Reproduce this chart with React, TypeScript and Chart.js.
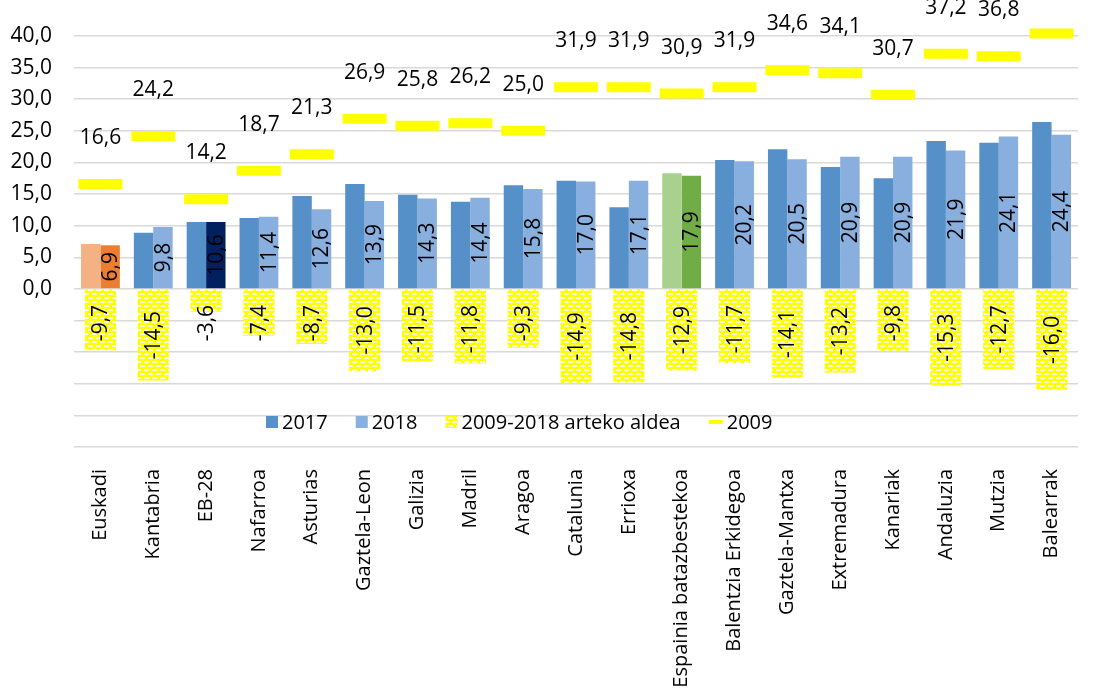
import { useEffect, useRef } from "react";
import { Chart, registerables } from "chart.js";

Chart.register(...registerables);

const categories = [
  "Euskadi", "Kantabria", "EB-28", "Nafarroa", "Asturias", "Gaztela-Leon", "Galizia",
  "Madril", "Aragoa", "Catalunia", "Errioxa", "Espainia batazbestekoa",
  "Balentzia Erkidegoa", "Gaztela-Mantxa", "Extremadura", "Kanariak", "Andaluzia",
  "Mutzia", "Balearrak",
];
const values2017 = [7.1, 8.9, 10.6, 11.2, 14.7, 16.6, 14.9, 13.8, 16.4, 17.1, 12.9, 18.3, 20.4, 22.1, 19.3, 17.5, 23.4, 23.1, 26.4];
const values2018 = [6.9, 9.8, 10.6, 11.4, 12.6, 13.9, 14.3, 14.4, 15.8, 17.0, 17.1, 17.9, 20.2, 20.5, 20.9, 20.9, 21.9, 24.1, 24.4];
const diff2009_2018 = [-9.7, -14.5, -3.6, -7.4, -8.7, -13.0, -11.5, -11.8, -9.3, -14.9, -14.8, -12.9, -11.7, -14.1, -13.2, -9.8, -15.3, -12.7, -16.0];
const values2009 = [16.6, 24.2, 14.2, 18.7, 21.3, 26.9, 25.8, 26.2, 25.0, 31.9, 31.9, 30.9, 31.9, 34.6, 34.1, 30.7, 37.2, 36.8, 40.4];

const seriesNames = ["2017", "2018", "2009-2018 arteko aldea", "2009"];
const yMin = -25;
const yMax = 40;
const yStep = 5;

const BLUE17 = "#5690C8";
const BLUE18 = "#88AFDD";
const YELLOW = "#FFFF00";
const highlight17: Record<string, string> = { "Euskadi": "#F4B183", "Espainia batazbestekoa": "#A9D18E" };
const highlight18: Record<string, string> = { "Euskadi": "#ED7D31", "EB-28": "#002060", "Espainia batazbestekoa": "#70AD47" };

const NUM_FONT = '21px "Open Sans"';
const fmt = (v: number) => v.toFixed(1).replace(".", ",");

function makePattern(ctx: CanvasRenderingContext2D) {
  const c = document.createElement("canvas");
  c.width = 8;
  c.height = 8;
  const p = c.getContext("2d")!;
  p.fillStyle = YELLOW;
  p.fillRect(0, 0, 8, 8);
  p.fillStyle = "rgba(255,255,255,0.9)";
  p.fillRect(0, 1, 5, 2);
  p.fillRect(4, 5, 4, 2);
  p.fillRect(0, 5, 1, 2);
  return ctx.createPattern(c, "repeat")!;
}

const labelPlugin = {
  id: "valueLabels",
  afterDatasetsDraw(chart: any) {
    const ctx: CanvasRenderingContext2D = chart.ctx;
    const zeroY = chart.scales.y.getPixelForValue(0);
    ctx.save();
    ctx.font = NUM_FONT;
    ctx.fillStyle = "#000";
    ctx.textAlign = "center";
    ctx.textBaseline = "middle";
    const rotText = (t: string, x: number, y: number) => {
      ctx.save();
      ctx.translate(x, y);
      ctx.rotate(-Math.PI / 2);
      ctx.fillText(t, 0, 1);
      ctx.restore();
    };
    chart.getDatasetMeta(2).data.forEach((bar: any, i: number) => {
      rotText(fmt(values2018[i]), bar.x, (bar.y + bar.base) / 2);
    });
    chart.getDatasetMeta(3).data.forEach((bar: any, i: number) => {
      const t = fmt(diff2009_2018[i]);
      const w = ctx.measureText(t).width;
      const cy = Math.max((bar.y + bar.base) / 2, zeroY + 16 + w / 2);
      rotText(t, bar.x, cy);
    });
    chart.getDatasetMeta(0).data.forEach((pt: any, i: number) => {
      ctx.fillText(fmt(values2009[i]), pt.x, pt.y - 46);
    });
    ctx.restore();
  },
};

const legendPlugin = {
  id: "customLegend",
  afterDraw(chart: any, _args: any, opts: any) {
    const ctx: CanvasRenderingContext2D = chart.ctx;
    ctx.save();
    ctx.font = '20px "Open Sans"';
    ctx.textBaseline = "middle";
    ctx.textAlign = "left";
    let x = opts.startX;
    const y = opts.y;
    const kinds = ["box17", "box18", "pattern", "line"];
    seriesNames.forEach((name, i) => {
      const k = kinds[i];
      if (k === "line") {
        ctx.fillStyle = YELLOW;
        ctx.fillRect(x, y - 2, 14, 4);
        x += 18;
      } else {
        ctx.fillStyle = k === "box17" ? BLUE17 : k === "box18" ? BLUE18 : opts.pattern;
        ctx.fillRect(x, y - 6, 12, 12);
        x += 16;
      }
      ctx.fillStyle = "#000";
      ctx.fillText(name, x, y + 1);
      x += ctx.measureText(name).width + opts.gap;
    });
    ctx.restore();
  },
};

export default function App() {
  const ref = useRef<HTMLCanvasElement | null>(null);

  useEffect(() => {
    document.body.style.margin = "0";
    document.body.style.overflow = "hidden";
    const canvas = ref.current!;
    const ctx = canvas.getContext("2d")!;
    const pattern = makePattern(ctx);

    const chart = new Chart(ctx, {
      type: "bar",
      data: {
        labels: categories,
        datasets: [
          {
            type: "line",
            label: seriesNames[3],
            data: values2009,
            showLine: false,
            pointStyle: "line",
            pointRadius: 22,
            pointHoverRadius: 22,
            pointBorderWidth: 10,
            pointHoverBorderWidth: 10,
            borderColor: YELLOW,
            backgroundColor: YELLOW,
            clip: false,
            order: 0,
          } as any,
          {
            label: seriesNames[0],
            data: values2017,
            backgroundColor: categories.map((c) => highlight17[c] || BLUE17),
            categoryPercentage: 0.735,
            barPercentage: 1,
            order: 1,
          },
          {
            label: seriesNames[1],
            data: values2018,
            backgroundColor: categories.map((c) => highlight18[c] || BLUE18),
            categoryPercentage: 0.735,
            barPercentage: 1,
            order: 1,
          },
          {
            label: seriesNames[2],
            data: diff2009_2018,
            grouped: false,
            backgroundColor: pattern,
            categoryPercentage: 0.59,
            barPercentage: 1,
            order: 1,
          } as any,
        ],
      },
      options: {
        responsive: false,
        animation: false,
        events: [],
        layout: { padding: { top: 36, right: 2, left: 0, bottom: 0 } },
        plugins: {
          legend: { display: false },
          tooltip: { enabled: false },
          customLegend: { startX: 266, y: 422, gap: 28, pattern },
        } as any,
        scales: {
          x: {
            type: "category",
            offset: true,
            grid: { display: false },
            border: { display: false },
            ticks: {
              autoSkip: false,
              minRotation: 90,
              maxRotation: 90,
              padding: 14,
              color: "#000",
              font: { family: "Open Sans", size: 20 },
            },
            afterFit: (s: any) => {
              s.height = 242;
            },
          },
          y: {
            min: yMin,
            max: yMax,
            border: { display: false },
            grid: { color: "#D9D9D9", lineWidth: 1.5, drawTicks: false },
            ticks: {
              stepSize: yStep,
              padding: 22,
              color: "#000",
              font: { family: "Open Sans", size: 21 },
              callback: (v: any) => (Number(v) >= 0 ? fmt(Number(v)) : ""),
            },
            afterFit: (s: any) => {
              s.width = 74;
            },
          },
        },
      },
      plugins: [labelPlugin, legendPlugin],
    });
    return () => chart.destroy();
  }, []);

  return <canvas ref={ref} width={1110} height={689} style={{ display: "block" }} />;
}
